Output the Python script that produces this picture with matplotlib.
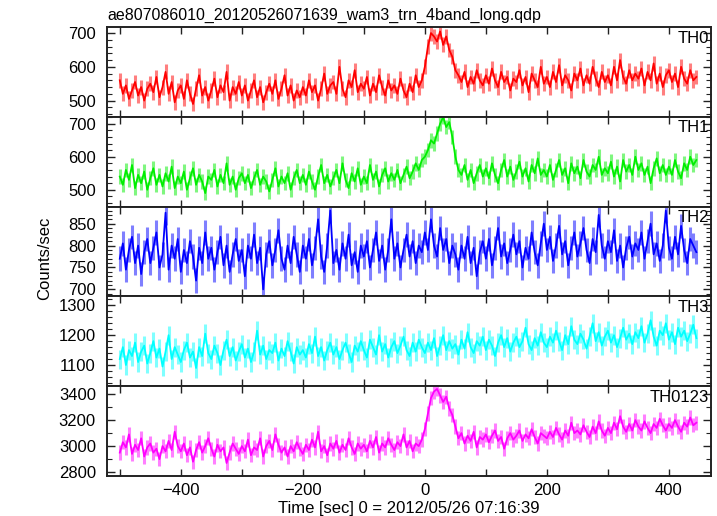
import numpy as np
import matplotlib
matplotlib.use("Agg")
import matplotlib.pyplot as plt
from matplotlib.ticker import MultipleLocator

plt.rcParams['font.family'] = ['Liberation Sans', 'DejaVu Sans']

# time grid (5 s bins)
time = np.arange(-500, 446, 5)

th0 = [560, 520, 545, 505, 530, 555, 515, 540, 500, 535,
       550, 525, 570, 510, 540, 585, 520, 555, 495, 530,
       545, 505, 560, 520, 490, 535, 575, 515, 540, 500,
       530, 565, 510, 545, 525, 585, 500, 540, 520, 555,
       515, 545, 500, 530, 560, 510, 540, 495, 525, 550,
       520, 560, 505, 535, 575, 515, 545, 500, 530, 510,
       540, 515, 560, 525, 545, 500, 535, 580, 520, 545,
       555, 520, 600, 535, 510, 560, 540, 590, 525, 550,
       535, 570, 515, 550, 525, 575, 540, 515, 560, 530,
       545, 520, 565, 530, 510, 550, 525, 575, 540, 560,
       600, 660, 700, 690, 675, 705, 665, 690, 650, 630,
       590, 575, 555, 585, 540, 570, 550, 590, 560, 545,
       575, 550, 595, 560, 540, 585, 555, 570, 530, 565,
       555, 590, 545, 570, 525, 580, 560, 540, 600, 550,
       570, 540, 585, 555, 605, 545, 575, 560, 530, 580,
       560, 595, 545, 575, 550, 600, 565, 540, 585, 555,
       575, 545, 600, 560, 620, 570, 550, 590, 560, 580,
       565, 595, 545, 585, 560, 610, 550, 580, 540, 575,
       590, 555, 580, 540, 600, 565, 550, 590, 560, 570]

th1 = [540, 515, 560, 530, 575, 505, 545, 520, 555, 500,
       535, 565, 515, 545, 510, 550, 525, 570, 505, 540,
       520, 555, 500, 535, 565, 515, 545, 525, 490, 540,
       530, 560, 510, 545, 520, 580, 515, 540, 500, 535,
       550, 520, 545, 505, 535, 560, 515, 540, 525, 495,
       530, 565, 510, 540, 520, 550, 500, 535, 560, 520,
       545, 515, 555, 525, 500, 540, 575, 520, 545, 510,
       535, 560, 520, 580, 530, 505, 550, 525, 565, 515,
       540, 520, 575, 530, 555, 510, 545, 565, 525, 550,
       530, 560, 520, 545, 570, 535, 555, 580, 560, 590,
       600, 620, 650, 640, 670, 700, 720, 690, 705, 660,
       600, 560, 545, 575, 530, 560, 520, 550, 575, 540,
       565, 535, 580, 545, 520, 560, 590, 540, 570, 530,
       555, 585, 540, 565, 525, 575, 550, 595, 545, 560,
       540, 575, 530, 560, 590, 545, 565, 520, 580, 550,
       570, 535, 590, 555, 540, 575, 560, 600, 545, 565,
       550, 585, 540, 570, 525, 590, 555, 575, 545, 600,
       560, 580, 545, 570, 520, 565, 595, 550, 575, 545,
       570, 545, 590, 555, 535, 580, 560, 600, 575, 590]

th2 = [770, 805, 745, 790, 820, 760, 800, 735, 785, 815,
       760, 795, 830, 750, 780, 875, 745, 800, 770, 815,
       740, 790, 760, 810, 775, 720, 795, 760, 830, 770,
       795, 745, 785, 820, 755, 800, 740, 780, 815, 765,
       790, 730, 800, 770, 825, 760, 795, 700, 780, 810,
       755, 790, 835, 770, 745, 800, 760, 820, 780, 740,
       800, 770, 815, 755, 795, 860, 775, 740, 800, 880,
       760, 790, 745, 805, 770, 825, 755, 785, 740, 800,
       775, 810, 750, 790, 830, 765, 800, 745, 790, 860,
       770, 805, 750, 790, 825, 775, 810, 760, 800, 785,
       830, 790, 860, 800, 775, 840, 790, 815, 760, 800,
       780, 745, 800, 770, 820, 760, 795, 730, 785, 810,
       770, 815, 755, 795, 840, 775, 805, 760, 790, 825,
       780, 810, 750, 795, 770, 830, 785, 755, 805, 850,
       790, 820, 765, 800, 845, 780, 810, 755, 795, 830,
       775, 805, 840, 790, 760, 815, 785, 870, 800, 770,
       810, 785, 835, 765, 800, 750, 795, 820, 775, 805,
       790, 830, 770, 810, 850, 780, 805, 765, 800, 880,
       795, 770, 820, 780, 845, 790, 760, 815, 800, 785]

th3 = [1120, 1160, 1100, 1150, 1130, 1175, 1110, 1145, 1165, 1105,
       1140, 1180, 1125, 1155, 1095, 1145, 1200, 1120, 1160, 1135,
       1110, 1150, 1175, 1125, 1145, 1090, 1160, 1130, 1205, 1140,
       1120, 1165, 1140, 1100, 1150, 1185, 1130, 1160, 1115, 1145,
       1170, 1125, 1155, 1110, 1145, 1215, 1135, 1165, 1120, 1150,
       1140, 1175, 1115, 1155, 1130, 1180, 1145, 1105, 1160, 1135,
       1150, 1125, 1170, 1140, 1195, 1130, 1160, 1115, 1150, 1175,
       1135, 1160, 1120, 1150, 1175, 1140, 1110, 1165, 1145, 1180,
       1150, 1125, 1185, 1160, 1135, 1200, 1145, 1170, 1125, 1160,
       1180, 1140, 1165, 1195, 1150, 1130, 1175, 1145, 1185, 1160,
       1140, 1175, 1150, 1190, 1130, 1165, 1200, 1150, 1180, 1155,
       1170, 1135, 1185, 1155, 1210, 1160, 1140, 1180, 1165, 1195,
       1150, 1185, 1165, 1130, 1175, 1200, 1160, 1190, 1145, 1175,
       1195, 1160, 1180, 1225, 1170, 1150, 1190, 1165, 1210, 1175,
       1160, 1195, 1175, 1215, 1180, 1150, 1200, 1170, 1230, 1185,
       1170, 1205, 1185, 1155, 1195, 1240, 1180, 1210, 1165, 1195,
       1215, 1175, 1200, 1160, 1190, 1225, 1185, 1205, 1170, 1210,
       1190, 1230, 1175, 1205, 1250, 1195, 1165, 1215, 1200, 1240,
       1185, 1210, 1170, 1225, 1195, 1215, 1180, 1205, 1235, 1190]

th0123 = [2950, 3030, 2990, 3090, 2940, 3010, 2970, 3060, 2920, 2990,
          3020, 2950, 2980, 2900, 3000, 2960, 3040, 2970, 3110, 3000,
          2960, 3020, 2930, 2990, 2880, 2970, 3030, 2950, 3000, 3060,
          2980, 2920, 3010, 2960, 2990, 2870, 2950, 3020, 2980, 2940,
          3000, 2960, 3050, 2930, 2990, 2970, 3060, 2920, 3000, 3040,
          2970, 3090, 3010, 2950, 2990, 2920, 3000, 2960, 3030, 2980,
          2940, 3010, 2970, 3050, 2990, 3110, 2960, 3000, 2930, 3020,
          2980, 3040, 2950, 3010, 2970, 3060, 2990, 2940, 3020, 2980,
          3010, 2960, 3040, 2990, 3070, 2950, 3020, 2990, 3060, 3010,
          2970, 3030, 3000, 3090, 2990, 3040, 2960, 3020, 3000, 3050,
          3130, 3250, 3370, 3420, 3440, 3390, 3340, 3380, 3290, 3240,
          3150, 3060, 3100, 3020, 3080, 3040, 3110, 2990, 3070, 3050,
          3090, 3030, 3080, 3120, 3040, 3070, 2980, 3060, 3100, 3050,
          3080, 3120, 3040, 3090, 3060, 3130, 3070, 3020, 3100, 3080,
          3060, 3110, 3070, 3140, 3090, 3050, 3120, 3080, 3180, 3100,
          3120, 3090, 3160, 3110, 3070, 3150, 3100, 3190, 3120, 3080,
          3140, 3100, 3180, 3130, 3230, 3150, 3110, 3170, 3120, 3200,
          3150, 3120, 3190, 3140, 3100, 3170, 3140, 3210, 3160, 3120,
          3170, 3140, 3200, 3150, 3110, 3180, 3150, 3220, 3160, 3180]

series = [th0, th1, th2, th3, th0123]
errors = [22, 22, 28, 32, 55]
names = ["TH0", "TH1", "TH2", "TH3", "TH0123"]
colors = ["#ff0000", "#00ee00", "#0000ff", "#00ffff", "#ff00ff"]
ylims = [(452, 718), (449, 721), (684, 889), (1029, 1330), (2770, 3461)]
ymajor = [100, 100, 50, 100, 200]
yminor = [20, 20, 10, 20, 100]

fig = plt.figure(figsize=(7.17, 5.16), dpi=100)
left, right = 107 / 717, 711 / 717
top, bottom = 1 - 27 / 516, 1 - 476 / 516
ph = (top - bottom) / 5

axes = []
for i in range(5):
    ax = fig.add_axes([left, top - (i + 1) * ph, right - left, ph])
    axes.append(ax)
    y = np.array(series[i], dtype=float)
    c = colors[i]
    ax.errorbar(time, y, yerr=errors[i], fmt='none', ecolor=c, alpha=0.5,
                elinewidth=2.2, capsize=0, zorder=1)
    ax.plot(time, y, color=c, lw=1.3, zorder=2)
    ax.set_xlim(-521, 469)
    ax.set_ylim(*ylims[i])
    ax.yaxis.set_major_locator(MultipleLocator(ymajor[i]))
    ax.yaxis.set_minor_locator(MultipleLocator(yminor[i]))
    ax.xaxis.set_major_locator(MultipleLocator(200))
    ax.xaxis.set_minor_locator(MultipleLocator(100))
    ax.tick_params(which='both', direction='in', top=True, right=True,
                   labelsize=12, colors='#222222', labelcolor='black')
    ax.tick_params(axis='y', which='major', length=6, width=1.0, pad=8)
    ax.tick_params(axis='y', which='minor', length=3.5, width=0.8)
    ax.tick_params(axis='x', which='both', length=5, width=1.0, pad=5)
    for s in ax.spines.values():
        s.set_linewidth(1.4)
        s.set_color('#222222')
    ax.text(0.997, 0.96, names[i], transform=ax.transAxes, ha='right', va='top',
            fontsize=12, zorder=5)
    if i < 4:
        ax.tick_params(labelbottom=False)

axes[-1].set_xlabel("Time [sec] 0 = 2012/05/26 07:16:39", fontsize=12, labelpad=2)
fig.text(left, 1 - 15 / 516, "ae807086010_20120526071639_wam3_trn_4band_long.qdp",
         ha='left', va='center', fontsize=11.5)
fig.text(45 / 717, 0.5, "Counts/sec", rotation=90, ha='center', va='center', fontsize=12)

fig.savefig("out.png", dpi=100)
